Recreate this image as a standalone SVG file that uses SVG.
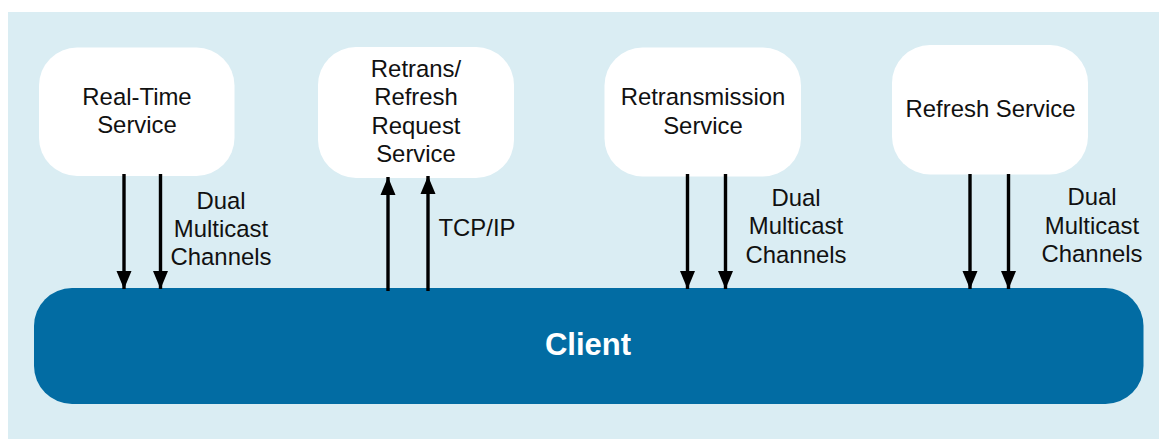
<svg xmlns="http://www.w3.org/2000/svg" width="1159" height="439" viewBox="0 0 1159 439">
<defs>
<marker id="a" markerUnits="userSpaceOnUse" markerWidth="19" markerHeight="16" refX="18" refY="8" orient="auto"><path d="M0 0.500L18 8L0 15.500Z" fill="#000"/></marker>
</defs>
<style>
.n{fill:#fff}
.t{font-family:"Liberation Sans",Arial,sans-serif;font-size:23.9px;fill:#111;text-anchor:middle}
.c{fill:none;stroke:#000;stroke-width:3.4}
</style>
<rect x="8" y="12" width="1151" height="427" fill="#daedf3"/>
<g id="client"><rect x="34" y="288" width="1109.500" height="116" rx="38" ry="38" fill="#026ca3"/><text x="588" y="355" font-family="'Liberation Sans',Arial,sans-serif" font-size="31" font-weight="700" fill="#fff" text-anchor="middle">Client</text></g>
<g id="realtime"><rect class="n" x="39" y="47.500" width="195.500" height="128.500" rx="38"/><text class="t" x="137" y="105">Real-Time</text><text class="t" x="137" y="133">Service</text></g>
<g id="request"><rect class="n" x="318" y="47" width="196" height="131" rx="38"/><text class="t" x="416" y="77">Retrans/</text><text class="t" x="416" y="105">Refresh</text><text class="t" x="416" y="134">Request</text><text class="t" x="416" y="162">Service</text></g>
<g id="retransmission"><rect class="n" x="604.500" y="47.500" width="196.500" height="129" rx="38"/><text class="t" x="703" y="105">Retransmission</text><text class="t" x="703" y="134">Service</text></g>
<g id="refresh"><rect class="n" x="892" y="45" width="196" height="129.500" rx="38"/><text class="t" x="990.500" y="117">Refresh Service</text></g>
<g id="connectors">
<path class="c" marker-end="url(#a)" d="M124 174V289"/>
<path class="c" marker-end="url(#a)" d="M160.500 174V289"/>
<path class="c" marker-end="url(#a)" d="M388 291V177"/>
<path class="c" marker-end="url(#a)" d="M428 291V176"/>
<path class="c" marker-end="url(#a)" d="M687.500 174V289"/>
<path class="c" marker-end="url(#a)" d="M725.500 174V289"/>
<path class="c" marker-end="url(#a)" d="M970 174V289"/>
<path class="c" marker-end="url(#a)" d="M1008.500 174V289"/>
</g>
<g id="labels">
<text class="t" x="221" y="209">Dual</text><text class="t" x="221" y="237">Multicast</text><text class="t" x="221" y="265">Channels</text>
<text class="t" x="477" y="236">TCP/IP</text>
<text class="t" x="796" y="206">Dual</text><text class="t" x="796" y="234">Multicast</text><text class="t" x="796" y="263">Channels</text>
<text class="t" x="1092" y="205">Dual</text><text class="t" x="1092" y="234">Multicast</text><text class="t" x="1092" y="262">Channels</text>
</g>
</svg>
